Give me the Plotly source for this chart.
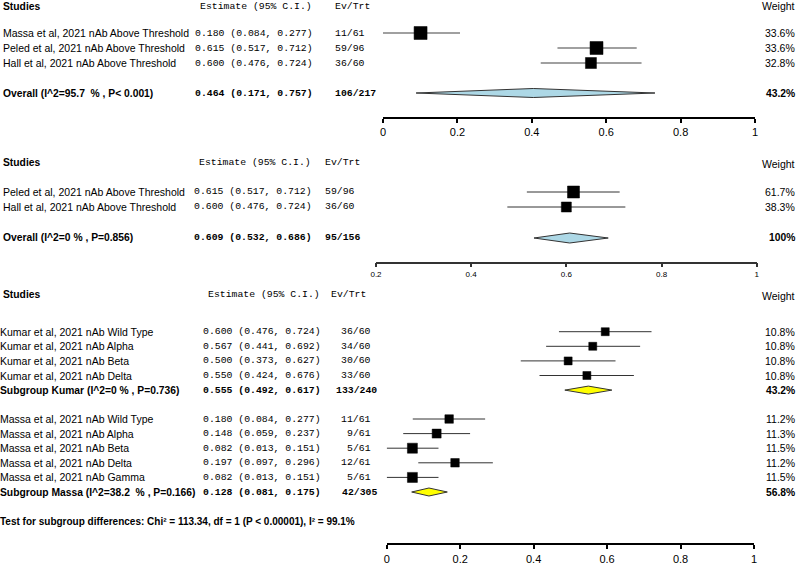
import plotly.graph_objects as go

W, H = 800, 574
SANS = "Arial, Liberation Sans, sans-serif"
MONO = "Courier New, Liberation Mono, monospace"

# ---------------- Panel 1 data ----------------
p1_studies = ["Massa et al, 2021 nAb Above Threshold",
              "Peled et al, 2021 nAb Above Threshold",
              "Hall et al, 2021 nAb Above Threshold"]
p1_est_text = ["0.180 (0.084, 0.277)", "0.615 (0.517, 0.712)", "0.600 (0.476, 0.724)"]
p1_evtrt = ["11/61", "59/96", "36/60"]
p1_weight = ["33.6%", "33.6%", "32.8%"]
p1_est = [0.101, 0.574, 0.559]
p1_lo = [0.0, 0.469, 0.424]
p1_hi = [0.207, 0.682, 0.695]
p1_overall_label = "Overall (I^2=95.7  % , P< 0.001)"
p1_overall_text = "0.464 (0.171, 0.757)"
p1_overall_evtrt = "106/217"
p1_overall_weight = "43.2%"
p1_diamond = [0.089, 0.404, 0.731]  # lo, est, hi
p1_ticks = [0, 0.2, 0.4, 0.6, 0.8, 1]

# ---------------- Panel 2 data ----------------
p2_studies = ["Peled et al, 2021 nAb Above Threshold",
              "Hall et al, 2021 nAb Above Threshold"]
p2_est_text = ["0.615 (0.517, 0.712)", "0.600 (0.476, 0.724)"]
p2_evtrt = ["59/96", "36/60"]
p2_weight = ["61.7%", "38.3%"]
p2_est = [0.615, 0.600]
p2_lo = [0.517, 0.476]
p2_hi = [0.712, 0.724]
p2_overall_label = "Overall (I^2=0 % , P=0.856)"
p2_overall_text = "0.609 (0.532, 0.686)"
p2_overall_evtrt = "95/156"
p2_overall_weight = "100%"
p2_diamond = [0.532, 0.607, 0.688]
p2_ticks = [0.2, 0.4, 0.6, 0.8, 1]

# ---------------- Panel 3 data ----------------
p3a_studies = ["Kumar et al, 2021 nAb Wild Type", "Kumar et al, 2021 nAb Alpha",
               "Kumar et al, 2021 nAb Beta", "Kumar et al, 2021 nAb Delta"]
p3a_est_text = ["0.600 (0.476, 0.724)", "0.567 (0.441, 0.692)",
                "0.500 (0.373, 0.627)", "0.550 (0.424, 0.676)"]
p3a_evtrt = ["36/60", "34/60", "30/60", "33/60"]
p3a_weight = ["10.8%", "10.8%", "10.8%", "10.8%"]
p3a_est = [0.595, 0.561, 0.494, 0.545]
p3a_lo = [0.469, 0.434, 0.365, 0.416]
p3a_hi = [0.721, 0.690, 0.623, 0.673]
p3a_sub_label = "Subgroup Kumar (I^2=0 % , P=0.736)"
p3a_sub_text = "0.555 (0.492, 0.617)"
p3a_sub_evtrt = "133/240"
p3a_sub_weight = "43.2%"
p3a_diamond = [0.485, 0.549, 0.613]

p3b_studies = ["Massa et al, 2021 nAb Wild Type", "Massa et al, 2021 nAb Alpha",
               "Massa et al, 2021 nAb Beta", "Massa et al, 2021 nAb Delta",
               "Massa et al, 2021 nAb Gamma"]
p3b_est_text = ["0.180 (0.084, 0.277)", "0.148 (0.059, 0.237)",
                "0.082 (0.013, 0.151)", "0.197 (0.097, 0.296)",
                "0.082 (0.013, 0.151)"]
p3b_evtrt = ["11/61", "9/61", "5/61", "12/61", "5/61"]
p3b_weight = ["11.2%", "11.3%", "11.5%", "11.2%", "11.5%"]
p3b_est = [0.170, 0.136, 0.070, 0.186, 0.070]
p3b_lo = [0.071, 0.045, 0.0, 0.086, 0.0]
p3b_hi = [0.268, 0.227, 0.141, 0.289, 0.141]
p3b_sub_label = "Subgroup Massa (I^2=38.2  % , P=0.166)"
p3b_sub_text = "0.128 (0.081, 0.175)"
p3b_sub_evtrt = "42/305"
p3b_sub_weight = "56.8%"
p3b_diamond = [0.068, 0.115, 0.165]
p3_test = "Test for subgroup differences: Chi² = 113.34, df = 1 (P < 0.00001), I² = 99.1%"
p3_ticks = [0, 0.2, 0.4, 0.6, 0.8, 1]

REG = 10.5   # regular label size
BLD = 10.3   # bold label size
MS = 9.8     # monospace size

fig = go.Figure()
annotations = []


def ann(text, x, y, yref, size=REG, family=SANS, bold=False, xanchor="left", color="black"):
    if bold:
        text = "<b>" + text + "</b>"
    annotations.append(dict(text=text, x=x / W, y=y, xref="paper", yref=yref,
                            xanchor=xanchor, yanchor="middle", showarrow=False,
                            borderpad=0, borderwidth=0,
                            font=dict(size=size, family=family, color=color)))


def panel(idx, xdom, top, axis_y, xrange, ticks, tick_size, axis_w, axis_col):
    xa = "xaxis" if idx == 1 else f"xaxis{idx}"
    ya = "yaxis" if idx == 1 else f"yaxis{idx}"
    yname = "y" if idx == 1 else f"y{idx}"
    fig.update_layout(**{
        xa: dict(domain=[xdom[0] / W, xdom[1] / W], range=xrange, anchor=yname,
                 showline=True, linewidth=axis_w, linecolor=axis_col, showgrid=False,
                 zeroline=False, ticks="outside", ticklen=4, tickwidth=axis_w,
                 tickcolor=axis_col, tickvals=ticks, automargin=False,
                 ticktext=[("%g" % t) for t in ticks],
                 tickfont=dict(size=tick_size, family=SANS, color="black")),
        ya: dict(domain=[(H - axis_y) / H, (H - top) / H], range=[axis_y, top],
                 anchor="x" if idx == 1 else f"x{idx}", visible=False,
                 showgrid=False, zeroline=False),
    })
    return ("x" if idx == 1 else f"x{idx}"), yname


def forest(xr, yr, ys, est, lo, hi, sizes, line_col, line_w):
    lx, ly = [], []
    for y, a, b in zip(ys, lo, hi):
        lx += [a, b, None]
        ly += [y, y, None]
    fig.add_trace(go.Scatter(x=lx, y=ly, mode="lines", xaxis=xr, yaxis=yr,
                             line=dict(color=line_col, width=line_w),
                             hoverinfo="skip", showlegend=False))
    fig.add_trace(go.Scatter(x=est, y=ys, mode="markers", xaxis=xr, yaxis=yr,
                             marker=dict(symbol="square", size=sizes, color="#000000",
                                         opacity=1, line=dict(width=0.5, color="#000000")),
                             showlegend=False))


def diamond(xr, yr, y, d, fill, half=4.5):
    lo, est, hi = d
    fig.add_trace(go.Scatter(x=[lo, est, hi, est, lo], y=[y, y - half, y, y + half, y],
                             mode="lines", fill="toself", fillcolor=fill,
                             line=dict(color="#333333", width=1), xaxis=xr, yaxis=yr,
                             hoverinfo="skip", showlegend=False))


# ---------------- Panel 1 ----------------
xr, yr = panel(1, (383, 755), 0, 117, [0, 1], p1_ticks, 11, 2, "black")
rows1 = [33 + 15 * i for i in range(len(p1_studies))]
ov1 = 93
forest(xr, yr, rows1, p1_est, p1_lo, p1_hi, [13, 13, 11], "#808080", 1.5)
diamond(xr, yr, ov1, p1_diamond, "#ADD8E6")
ann("Studies", 3, 6, yr, size=BLD, bold=True)
ann("Estimate (95% C.I.)", 200, 6, yr, size=MS, family=MONO)
ann("Ev/Trt", 335, 6, yr, size=MS, family=MONO)
ann("Weight", 795, 6, yr, xanchor="right")
for y, s, e, v, w in zip(rows1, p1_studies, p1_est_text, p1_evtrt, p1_weight):
    ann(s, 3, y, yr)
    ann(e, 195, y, yr, size=MS, family=MONO)
    ann(v, 335, y, yr, size=MS, family=MONO)
    ann(w, 795, y, yr, xanchor="right")
ann(p1_overall_label, 3, ov1, yr, size=BLD, bold=True)
ann(p1_overall_text, 195, ov1, yr, size=MS, family=MONO, bold=True)
ann(p1_overall_evtrt, 335, ov1, yr, size=MS, family=MONO, bold=True)
ann(p1_overall_weight, 795, ov1, yr, size=BLD, bold=True, xanchor="right")
ann("Proportion", 569, 139, yr, xanchor="center")

# ---------------- Panel 2 ----------------
xr, yr = panel(2, (376, 756.7), 150, 261.7, [0.2, 1], p2_ticks, 8, 1.5, "#333333")
rows2 = [192 + 15 * i for i in range(len(p2_studies))]
ov2 = 238
forest(xr, yr, rows2, p2_est, p2_lo, p2_hi, [12, 10], "#333333", 1)
diamond(xr, yr, ov2, p2_diamond, "#ADD8E6", half=5)
ann("Studies", 3, 163, yr, size=BLD, bold=True)
ann("Estimate (95% C.I.)", 199, 163, yr, size=MS, family=MONO)
ann("Ev/Trt", 325, 163, yr, size=MS, family=MONO)
ann("Weight", 795, 164, yr, xanchor="right")
for y, s, e, v, w in zip(rows2, p2_studies, p2_est_text, p2_evtrt, p2_weight):
    ann(s, 3, y, yr)
    ann(e, 194, y, yr, size=MS, family=MONO)
    ann(v, 325, y, yr, size=MS, family=MONO)
    ann(w, 795, y, yr, xanchor="right")
ann(p2_overall_label, 3, ov2, yr, size=BLD, bold=True)
ann(p2_overall_text, 194, ov2, yr, size=MS, family=MONO, bold=True)
ann(p2_overall_evtrt, 325, ov2, yr, size=MS, family=MONO, bold=True)
ann(p2_overall_weight, 795, ov2, yr, size=BLD, bold=True, xanchor="right")
ann("Proportion", 566, 285, yr, xanchor="center")

# ---------------- Panel 3 ----------------
xr, yr = panel(3, (386.7, 754), 285, 543.3, [0, 1], p3_ticks, 11, 2, "black")
step = 14.6
rows3a = [331.7 + step * i for i in range(len(p3a_studies))]
sub3a = rows3a[-1] + step
rows3b = [419 + step * i for i in range(len(p3b_studies))]
sub3b = rows3b[-1] + step
forest(xr, yr, rows3a, p3a_est, p3a_lo, p3a_hi, [8, 8, 8, 8], "#333333", 1)
forest(xr, yr, rows3b, p3b_est, p3b_lo, p3b_hi, [8.5, 9, 10, 8.5, 10], "#333333", 1)
diamond(xr, yr, sub3a, p3a_diamond, "#FFFF00", half=4)
diamond(xr, yr, sub3b, p3b_diamond, "#FFFF00", half=4)
ann("Studies", 3, 294, yr, size=BLD, bold=True)
ann("Estimate (95% C.I.)", 208, 294, yr, size=MS, family=MONO)
ann("Ev/Trt", 331, 294, yr, size=MS, family=MONO)
ann("Weight", 795, 296, yr, xanchor="right")
for rows, studies, ests, evs, ws in ((rows3a, p3a_studies, p3a_est_text, p3a_evtrt, p3a_weight),
                                     (rows3b, p3b_studies, p3b_est_text, p3b_evtrt, p3b_weight)):
    for y, s, e, v, w in zip(rows, studies, ests, evs, ws):
        ann(s, 0, y, yr)
        ann(e, 203, y, yr, size=MS, family=MONO)
        ann(v, 371, y, yr, size=MS, family=MONO, xanchor="right")
        ann(w, 795, y, yr, xanchor="right")
for y, lab, e, v, w in ((sub3a, p3a_sub_label, p3a_sub_text, p3a_sub_evtrt, p3a_sub_weight),
                        (sub3b, p3b_sub_label, p3b_sub_text, p3b_sub_evtrt, p3b_sub_weight)):
    ann(lab, 0, y, yr, size=BLD, bold=True)
    ann(e, 203, y, yr, size=MS, family=MONO, bold=True)
    ann(v, 377, y, yr, size=MS, family=MONO, bold=True, xanchor="right")
    ann(w, 795, y, yr, size=BLD, bold=True, xanchor="right")
ann(p3_test, 0, 521, yr, size=10, bold=True)
ann("Proportion", 570, 568, yr, xanchor="center")

fig.update_layout(width=W, height=H, margin=dict(l=0, r=0, t=0, b=0, pad=0),
                  paper_bgcolor="white", plot_bgcolor="white",
                  annotations=annotations, showlegend=False)
fig.write_html("out.html", config={"displayModeBar": False},
               post_script="document.body.style.margin='0';document.body.style.padding='0';")
